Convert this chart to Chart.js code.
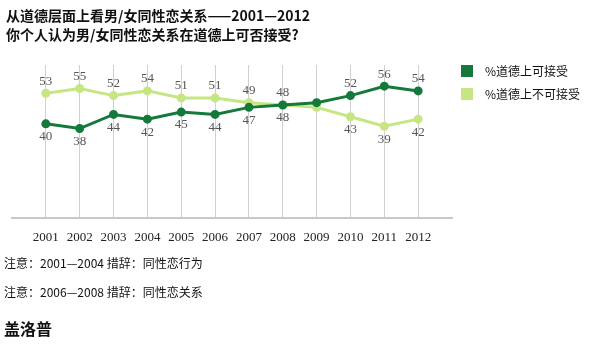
<!DOCTYPE html>
<html>
<head>
<meta charset="utf-8">
<script src="https://cdn.jsdelivr.net/npm/chart.js@4"></script>
<style>
  body { margin: 0; background: #fff; font-family: "Noto Sans CJK SC", sans-serif; color: #111; }
  #wrap { position: relative; width: 590px; height: 344px; overflow: hidden; }
  #chart { position: absolute; left: 0; top: 0; }
  .title { position: absolute; left: 6px; font-size: 14px; font-weight: bold; line-height: 18px; white-space: nowrap; }
  .legend { position: absolute; left: 461px; font-size: 12px; line-height: 14px; white-space: nowrap; }
  .legend i { position: absolute; left: 0; top: 1px; width: 12px; height: 12px; }
  .legend span { position: absolute; left: 24px; top: 0; }
  .note { position: absolute; left: 4px; font-size: 12px; line-height: 14px; white-space: nowrap; }
  .src { position: absolute; left: 4px; top: 318px; font-size: 16px; font-weight: bold; line-height: 20px; }
</style>
</head>
<body>
<div id="wrap">
  <canvas id="chart" width="590" height="260"></canvas>
  <div class="title" style="top:6px">从道德层面上看男/女同性恋关系——2001—2012</div>
  <div class="title" style="top:25px">你个人认为男/女同性恋关系在道德上可否接受?</div>
  <div class="legend" style="top:64px"><i style="background:#14793a"></i><span>%道德上可接受</span></div>
  <div class="legend" style="top:87px"><i style="background:#c5e682"></i><span>%道德上不可接受</span></div>
  <div class="note" style="top:256px">注意：2001—2004 措辞：同性恋行为</div>
  <div class="note" style="top:285px">注意：2006—2008 措辞：同性恋关系</div>
  <div class="src">盖洛普</div>
</div>
<script>
// Gallup yearly figures
const years = [2001, 2002, 2003, 2004, 2005, 2006, 2007, 2008, 2009, 2010, 2011, 2012];
const acceptable = [40, 38, 44, 42, 45, 44, 47, 48, 49, 52, 56, 54];
const wrong = [53, 55, 52, 54, 51, 51, 49, 48, 47, 43, 39, 42];
const unlabeledYears = [2009];

const darkGreen = "#14793a";
const lightGreen = "#c5e682";

// value labels: the higher line gets its label above, the lower one below
const valueLabels = {
  id: "valueLabels",
  afterDatasetsDraw(chart) {
    const ctx = chart.ctx;
    ctx.save();
    ctx.font = "13px Georgia, 'Liberation Serif', serif";
    ctx.fillStyle = "#555";
    ctx.textAlign = "center";
    ctx.textBaseline = "middle";
    chart.data.datasets.forEach((ds, di) => {
      const meta = chart.getDatasetMeta(di);
      meta.data.forEach((pt, i) => {
        if (unlabeledYears.includes(years[i])) return;
        const mine = ds.data[i].y;
        const other = chart.data.datasets[1 - di].data[i].y;
        let above = mine > other;
        if (mine === other) above = di === 1;
        ctx.fillText(String(mine), pt.x, above ? pt.y - 12 : pt.y + 13);
      });
    });
    ctx.restore();
  }
};

new Chart(document.getElementById("chart"), {
  type: "line",
  data: {
    datasets: [
      {
        label: "%道德上可接受",
        data: years.map((y, i) => ({ x: y, y: acceptable[i] })),
        borderColor: darkGreen, backgroundColor: darkGreen,
        borderWidth: 3, pointRadius: 3, tension: 0
      },
      {
        label: "%道德上不可接受",
        data: years.map((y, i) => ({ x: y, y: wrong[i] })),
        borderColor: lightGreen, backgroundColor: lightGreen,
        borderWidth: 3, pointRadius: 3, tension: 0
      }
    ]
  },
  options: {
    responsive: false,
    animation: false,
    layout: { padding: { left: 7, right: 138, top: 65, bottom: 12 } },
    plugins: { legend: { display: false }, tooltip: { enabled: false } },
    scales: {
      x: {
        type: "linear",
        min: 2000, max: 2013,
        afterFit: s => { s.height = 30; },
        ticks: {
          stepSize: 1,
          padding: 12,
          color: "#222",
          font: { family: "Georgia, 'Liberation Serif', serif", size: 13 },
          callback: v => (years.includes(v) ? String(v) : "")
        },
        grid: {
          drawTicks: false,
          color: c => (years.includes(c.tick && c.tick.value) ? "#d0d0d0" : "rgba(0,0,0,0)"),
          lineWidth: 1
        },
        border: { color: "#c8c8c8", width: 2 }
      },
      y: { display: false, min: 0, max: 65 }
    }
  },
  plugins: [valueLabels]
});
</script>
</body>
</html>
